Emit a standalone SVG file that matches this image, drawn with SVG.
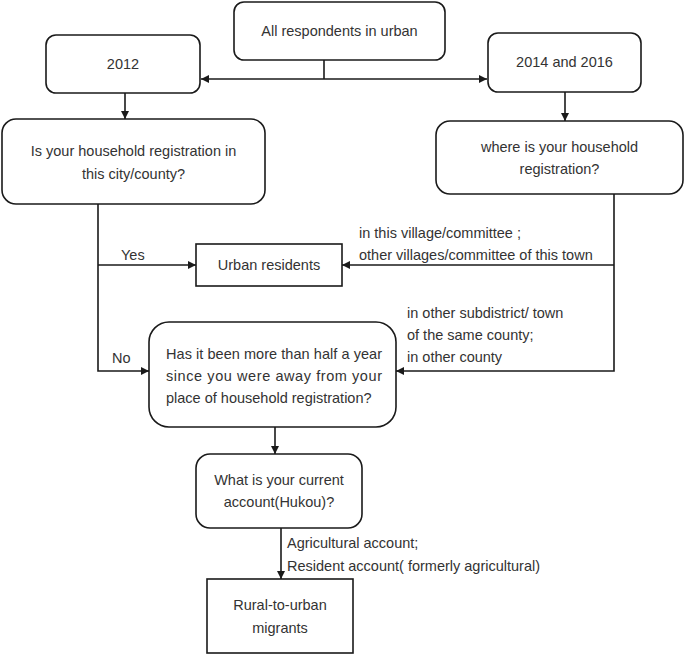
<svg xmlns="http://www.w3.org/2000/svg" width="685" height="655" viewBox="0 0 685 655">
<style>
.box{fill:#fff;stroke:#1a1a1a;stroke-width:1.6}
.t{font-family:"Liberation Sans",Arial,sans-serif;font-size:14.5px;fill:#333}
.c{text-anchor:middle}
.ln{fill:none;stroke:#1a1a1a;stroke-width:1.6}
</style>
<defs>
<marker id="ah" viewBox="0 0 10 10" refX="10" refY="5" markerWidth="8" markerHeight="8" markerUnits="userSpaceOnUse" orient="auto">
<path d="M0,0 L10,5 L0,10 z" fill="#1a1a1a"/>
</marker>
</defs>
<rect width="685" height="655" fill="#fff"/>
<g id="connectors">
<path class="ln" d="M324,60 V79"/>
<path class="ln" d="M324,79 H201" marker-end="url(#ah)"/>
<path class="ln" d="M324,79 H487" marker-end="url(#ah)"/>
<path class="ln" d="M125,93 V119" marker-end="url(#ah)"/>
<path class="ln" d="M565,92 V121" marker-end="url(#ah)"/>
<path class="ln" d="M98,204 V371 H149" marker-end="url(#ah)"/>
<path class="ln" d="M98,265 H196" marker-end="url(#ah)"/>
<path class="ln" d="M614,194 V371 H396" marker-end="url(#ah)"/>
<path class="ln" d="M614,265 H342" marker-end="url(#ah)"/>
<path class="ln" d="M275,427 V454" marker-end="url(#ah)"/>
<path class="ln" d="M281,528 V579" marker-end="url(#ah)"/>
<text class="t" x="121" y="260">Yes</text>
<text class="t" x="112" y="363">No</text>
<text class="t" x="359" y="238">in this village/committee ;</text>
<text class="t" x="359" y="260">other villages/committee of this town</text>
<text class="t" x="407" y="318">in other subdistrict/ town</text>
<text class="t" x="407" y="340">of the same county;</text>
<text class="t" x="407" y="362">in other county</text>
<text class="t" x="287" y="548">Agricultural account;</text>
<text class="t" x="287" y="571">Resident account( formerly agricultural)</text>
</g>
<g id="all">
<rect class="box" x="234" y="2" width="211" height="58" rx="10"/>
<text class="t c" x="339.5" y="36">All respondents in urban</text>
</g>
<g id="y2012">
<rect class="box" x="46" y="35" width="154" height="58" rx="10"/>
<text class="t c" x="123" y="69">2012</text>
</g>
<g id="y2014">
<rect class="box" x="488" y="33" width="153" height="59" rx="10"/>
<text class="t c" x="564.5" y="67">2014 and 2016</text>
</g>
<g id="q2012">
<rect class="box" x="2" y="119" width="263" height="85" rx="14"/>
<text class="t c" x="133.5" y="156">Is your household registration in</text>
<text class="t c" x="133.5" y="179">this city/county?</text>
</g>
<g id="q2014">
<rect class="box" x="436" y="121" width="247" height="73" rx="14"/>
<text class="t c" x="559.5" y="152">where is your household</text>
<text class="t c" x="559.5" y="174">registration?</text>
</g>
<g id="urban">
<rect class="box" x="196" y="244" width="146" height="42"/>
<text class="t c" x="269" y="270">Urban residents</text>
</g>
<g id="halfyear">
<rect class="box" x="149" y="322" width="247" height="105" rx="20"/>
<text class="t" x="166" y="359" textLength="216" lengthAdjust="spacing">Has it been more than half a year</text>
<text class="t" x="166" y="381" textLength="216" lengthAdjust="spacing">since you were away from your</text>
<text class="t" x="166" y="403">place of household registration?</text>
</g>
<g id="hukou">
<rect class="box" x="196" y="454" width="166" height="74" rx="14"/>
<text class="t c" x="279" y="485">What is your current</text>
<text class="t c" x="279" y="507">account(Hukou)?</text>
</g>
<g id="migrants">
<rect class="box" x="207" y="579" width="146" height="74"/>
<text class="t c" x="280" y="610">Rural-to-urban</text>
<text class="t c" x="280" y="633">migrants</text>
</g>
</svg>
